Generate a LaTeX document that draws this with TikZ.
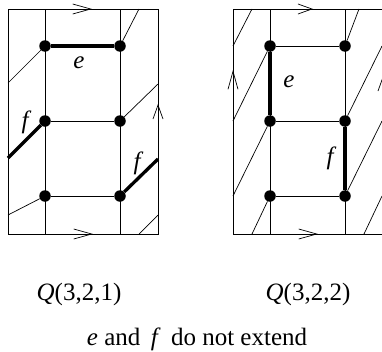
\documentclass[tikz,border=0pt]{standalone}
\usepackage{fontspec}
\setmainfont{Liberation Serif}
\usetikzlibrary{arrows.meta}
\tikzset{
  dot/.style={circle,fill=black,inner sep=0pt,minimum size=11.5pt},
  thinline/.style={line width=0.7pt},
  heavy/.style={line width=3.3pt},
  flow/.style={line width=0.7pt,-{Straight Barb[length=18pt,width=10pt]}},
  flowshort/.style={line width=0.7pt,-{Straight Barb[length=14pt,width=10pt]}},
  letter/.style={inner sep=0pt,font=\fontsize{25}{28}\selectfont\itshape},
  caption/.style={inner sep=0pt,font=\fontsize{25}{28}\selectfont},
}
\begin{document}
\begin{tikzpicture}[x=1pt,y=-1pt]
  \useasboundingbox (0,0) rectangle (382,351);
  % frames
  \draw[thinline] (8,9) rectangle (158,234);
  \draw[thinline] (233,9) rectangle (383,234);
  % grid points, L left panel, R right panel
  \foreach \p/\xa/\xb in {L/45/120,R/270/345}{
    \coordinate (\p at) at (\xa,9);
    \coordinate (\p ab) at (\xa,234);
    \coordinate (\p bt) at (\xb,9);
    \coordinate (\p bb) at (\xb,234);
    \foreach \r/\yy in {1/46,2/121,3/196}{
      \node[dot] (\p a\r) at (\xa,\yy) {};
      \node[dot] (\p b\r) at (\xb,\yy) {};
    }
    \draw[thinline] (\p at) -- (\p ab);
    \draw[thinline] (\p bt) -- (\p bb);
    \draw[thinline] (\p a2) -- (\p b2);
    \draw[thinline] (\p a3) -- (\p b3);
  }
  \draw[thinline] (Ra1) -- (Rb1);
  \draw[heavy] (La1) -- (Lb1);
  \draw[heavy] (Ra1) -- (Ra2);
  \draw[heavy] (Rb2) -- (Rb3);
  % slanted edges of Q(3,2,1)
  \coordinate (l1) at (8,83);
  \coordinate (l2) at (139,9);
  \coordinate (l3) at (158,84);
  \coordinate (l4) at (8,158);
  \coordinate (l5) at (158,159);
  \coordinate (l6) at (8,215);
  \coordinate (l7) at (139,234);
  \coordinate (l8) at (158,215);
  \draw[thinline] (La1) -- (l1);
  \draw[thinline] (Lb1) -- (l2);
  \draw[thinline] (Lb2) -- (l3);
  \draw[heavy] (La2) -- (l4);
  \draw[heavy] (Lb3) -- (l5);
  \draw[thinline] (La3) -- (l6);
  \draw[thinline] (l7) -- (l8);
  % slanted edges of Q(3,2,2)
  \coordinate (r1) at (233,46);
  \coordinate (r2) at (252,9);
  \coordinate (r3) at (233,121);
  \coordinate (r4) at (359,9);
  \coordinate (r5) at (382,46);
  \coordinate (r6) at (233,196);
  \coordinate (r7) at (382,121);
  \coordinate (r8) at (252,234);
  \coordinate (r9) at (364,234);
  \coordinate (r10) at (382,196);
  \draw[thinline] (r1) -- (r2);
  \draw[thinline] (Ra1) -- (r3);
  \draw[thinline] (Rb1) -- (r4);
  \draw[thinline] (Rb2) -- (r5);
  \draw[thinline] (Ra2) -- (r6);
  \draw[thinline] (Rb3) -- (r7);
  \draw[thinline] (Ra3) -- (r8);
  \draw[thinline] (r9) -- (r10);
  % arrows on the frames
  \coordinate (la) at (70,9);
  \coordinate (lb) at (92,9);
  \coordinate (lc) at (70,234);
  \coordinate (ld) at (93,234);
  \coordinate (le) at (158,120);
  \coordinate (lf) at (158,104);
  \coordinate (ra) at (295,9);
  \coordinate (rb) at (313,9);
  \coordinate (rc) at (295,234);
  \coordinate (rd) at (318,234);
  \coordinate (re) at (233,92);
  \coordinate (rf) at (233,70);
  \coordinate (rg) at (383,92);
  \coordinate (rh) at (383,76);
  \draw[flow] (la) -- (lb);
  \draw[flow] (lc) -- (ld);
  \draw[flowshort] (le) -- (lf);
  \draw[flowshort] (ra) -- (rb);
  \draw[flow] (rc) -- (rd);
  \draw[flow] (re) -- (rf);
  \draw[flowshort] (rg) -- (rh);
  % labels
  \node[letter] (le1) at (79,63) {e};
  \node[letter] (lf1) at (25,122) {f};
  \node[letter] (lf2) at (137,163) {f};
  \node[letter] (re1) at (289,82) {e};
  \node[letter] (rf1) at (330,158) {f};
  \node[caption] (capl) at (79,294) {\textit{Q}(3,2,1)};
  \node[caption] (capr) at (308,294) {\textit{Q}(3,2,2)};
  \node[caption] (capb) at (197,339) {\textit{e} and\, \textit{f}\, do not extend};
\end{tikzpicture}
\end{document}
